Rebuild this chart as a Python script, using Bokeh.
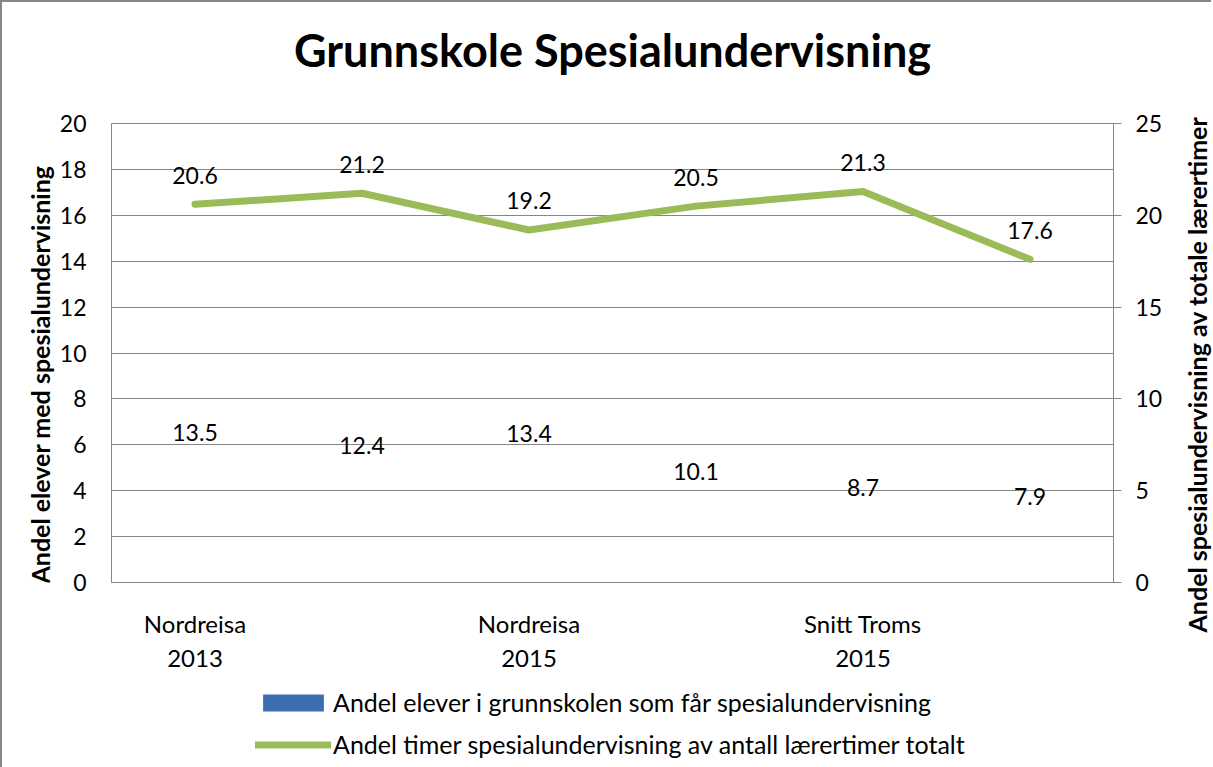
import math
from bokeh.plotting import figure
from bokeh.layouts import row, column
from bokeh.models import (Range1d, LinearAxis, FixedTicker, Legend, LegendItem,
                          ColumnDataSource, Label, Title)
from bokeh.core.properties import value
from bokeh.embed import file_html
from bokeh.resources import INLINE

# ---------------- data ----------------
title_text = "Grunnskole Spesialundervisning"
categories = ["Nordreisa 2013", "Nordreisa 2014", "Nordreisa 2015",
              "Kostragruppe 2015", "Snitt Troms 2015", "Landet 2015"]
tick_labels = ["Nordreisa\n2013", "", "Nordreisa\n2015", "", "Snitt Troms\n2015", ""]
andel_elever = [13.5, 12.4, 13.4, 10.1, 8.7, 7.9]
andel_timer = [20.6, 21.2, 19.2, 20.5, 21.3, 17.6]
series_names = ["Andel elever i grunnskolen som får spesialundervisning",
                "Andel timer spesialundervisning av antall lærertimer totalt"]
left_title = "Andel elever med spesialundervisning"
right_title = "Andel spesialundervisning av totale lærertimer"
left_ticks = [0, 2, 4, 6, 8, 10, 12, 14, 16, 18, 20]
right_ticks = [0, 5, 10, 15, 20, 25]

# ---------------- styling ----------------
FONT = "Lato"
GRID = "#868686"
BORDER = "2px solid #878787"
BLUE = "#3B6FB2"
GREEN = "#9BBB59"
NUM_FS = "23px"
CAT_FS = "24px"
LEG_FS = "25px"
AXT_FS = "25px"


def blank_fig(w, h, cw, ch):
    # w, h: element size; cw, ch: extent of the drawing area in pixels
    f = figure(width=w, height=h, x_range=Range1d(0, cw), y_range=Range1d(0, ch),
               x_axis_type=None, y_axis_type=None, output_backend="svg",
               toolbar_location=None, min_border=0)
    f.outline_line_color = None
    f.xgrid.visible = False
    f.ygrid.visible = False
    f.background_fill_color = "white"
    f.border_fill_color = "white"
    return f


x_pos = [i + 0.5 for i in range(len(categories))]
src = ColumnDataSource(dict(
    x=x_pos,
    cat=categories,
    elever=andel_elever,
    half=[v / 2 for v in andel_elever],
    timer=andel_timer,
    elever_lbl=[f"{v:.1f}" for v in andel_elever],
    timer_lbl=[f"{v:.1f}" for v in andel_timer],
))

# ---------------- main chart ----------------
p = figure(x_range=Range1d(0, len(categories)), y_range=Range1d(left_ticks[0], left_ticks[-1]),
           width=1124, height=574, output_backend="svg", toolbar_location=None,
           min_border_left=55, min_border_right=67, min_border_top=21, min_border_bottom=94)
p.background_fill_color = "white"
p.border_fill_color = "white"
p.outline_line_color = GRID

p.xgrid.visible = False
p.ygrid.ticker = FixedTicker(ticks=left_ticks)
p.ygrid.grid_line_color = GRID
p.ygrid.grid_line_width = 1

la = p.yaxis[0]
la.ticker = FixedTicker(ticks=left_ticks)
la.major_tick_in = 0
la.major_tick_out = 0
la.minor_tick_in = 0
la.minor_tick_out = 0
la.axis_line_color = GRID
la.major_label_standoff = 25
la.major_label_text_font = FONT
la.major_label_text_font_size = NUM_FS
la.major_label_text_color = "black"

xa = p.xaxis[0]
shown = [(x, t) for x, t in zip(x_pos, tick_labels) if t]
xa.ticker = FixedTicker(ticks=[x for x, _ in shown])
xa.major_label_overrides = {x: t for x, t in shown}
xa.major_tick_in = 0
xa.major_tick_out = 0
xa.minor_tick_in = 0
xa.minor_tick_out = 0
xa.axis_line_color = GRID
xa.major_label_standoff = 26
xa.major_label_text_font = FONT
xa.major_label_text_font_size = CAT_FS
xa.major_label_text_color = "black"

p.extra_y_ranges = {"right": Range1d(right_ticks[0], right_ticks[-1])}
ra = LinearAxis(y_range_name="right", ticker=FixedTicker(ticks=right_ticks))
ra.major_tick_in = 0
ra.major_tick_out = 8
ra.minor_tick_in = 0
ra.minor_tick_out = 0
ra.major_tick_line_color = GRID
ra.axis_line_color = GRID
ra.major_label_standoff = 14
ra.major_label_text_font = FONT
ra.major_label_text_font_size = NUM_FS
ra.major_label_text_color = "black"
p.add_layout(ra, "right")

# bars (drawn without visible area, as in the reference)
p.vbar(x="x", top="elever", width=0, fill_color=BLUE, line_color=None, source=src)
p.text(x="x", y="half", text="elever_lbl", source=src, text_align="center",
       text_baseline="middle", y_offset=5, text_font=value(FONT),
       text_font_size=NUM_FS, text_color="black")

p.line(x="x", y="timer", y_range_name="right", source=src, line_color=GREEN,
       line_width=7, line_join="round", line_cap="round")
p.text(x="x", y="timer", text="timer_lbl", y_range_name="right", source=src,
       text_align="center", text_baseline="middle", y_offset=-29,
       text_font=value(FONT), text_font_size=NUM_FS, text_color="black")

# ---------------- title and axis titles ----------------
tf = blank_fig(1211, 102, 1209, 100)
tf.styles = {"border-left": BORDER, "border-top": BORDER}
tf.add_layout(Label(x=609, y=53, text=title_text, text_align="center", text_baseline="middle",
                    text_font=FONT, text_font_style="bold", text_font_size="45px",
                    text_color="black"))

# side figures: their drawing area is aligned with the main plot area (459 px tall)
lf = blank_fig(56, 574, 54, 459)
lf.styles = {"border-left": BORDER}
lf.add_layout(Label(x=36, y=208, text=left_title, angle=math.pi / 2, text_align="center",
                    text_baseline="middle", text_font=FONT, text_font_style="bold",
                    text_font_size=AXT_FS, text_color="black"))

rf = blank_fig(31, 574, 1, 459)
rf.add_layout(Title(text=right_title, align="left", offset=-50, standoff=0,
                    text_font=FONT, text_font_style="bold", text_font_size=AXT_FS,
                    text_color="black"), "left")

# ---------------- legend ----------------
lg = blank_fig(1211, 91, 1209, 91)
lg.styles = {"border-left": BORDER}
sw_bar = lg.vbar(x="x", top="elever", width=0, fill_color=BLUE, line_color=None,
                 source=src, visible=False)
sw_line = lg.line(x="x", y="timer", line_color=GREEN, line_width=7, line_cap="round",
                  source=src, visible=False)
legend = Legend(items=[LegendItem(label=series_names[0], renderers=[sw_bar]),
                       LegendItem(label=series_names[1], renderers=[sw_line])],
                location=(253, 8), orientation="vertical",
                glyph_width=76, glyph_height=21, label_height=24, spacing=12,
                padding=0, margin=0, border_line_color=None, background_fill_alpha=0,
                inactive_fill_alpha=0, label_text_color="black",
                label_text_font=FONT, label_text_font_size=LEG_FS, label_standoff=2)
lg.add_layout(legend, "center")

layout = column(tf, row(lf, p, rf, spacing=0), lg, spacing=0)

open("out.html", "w").write(file_html(layout, INLINE))
